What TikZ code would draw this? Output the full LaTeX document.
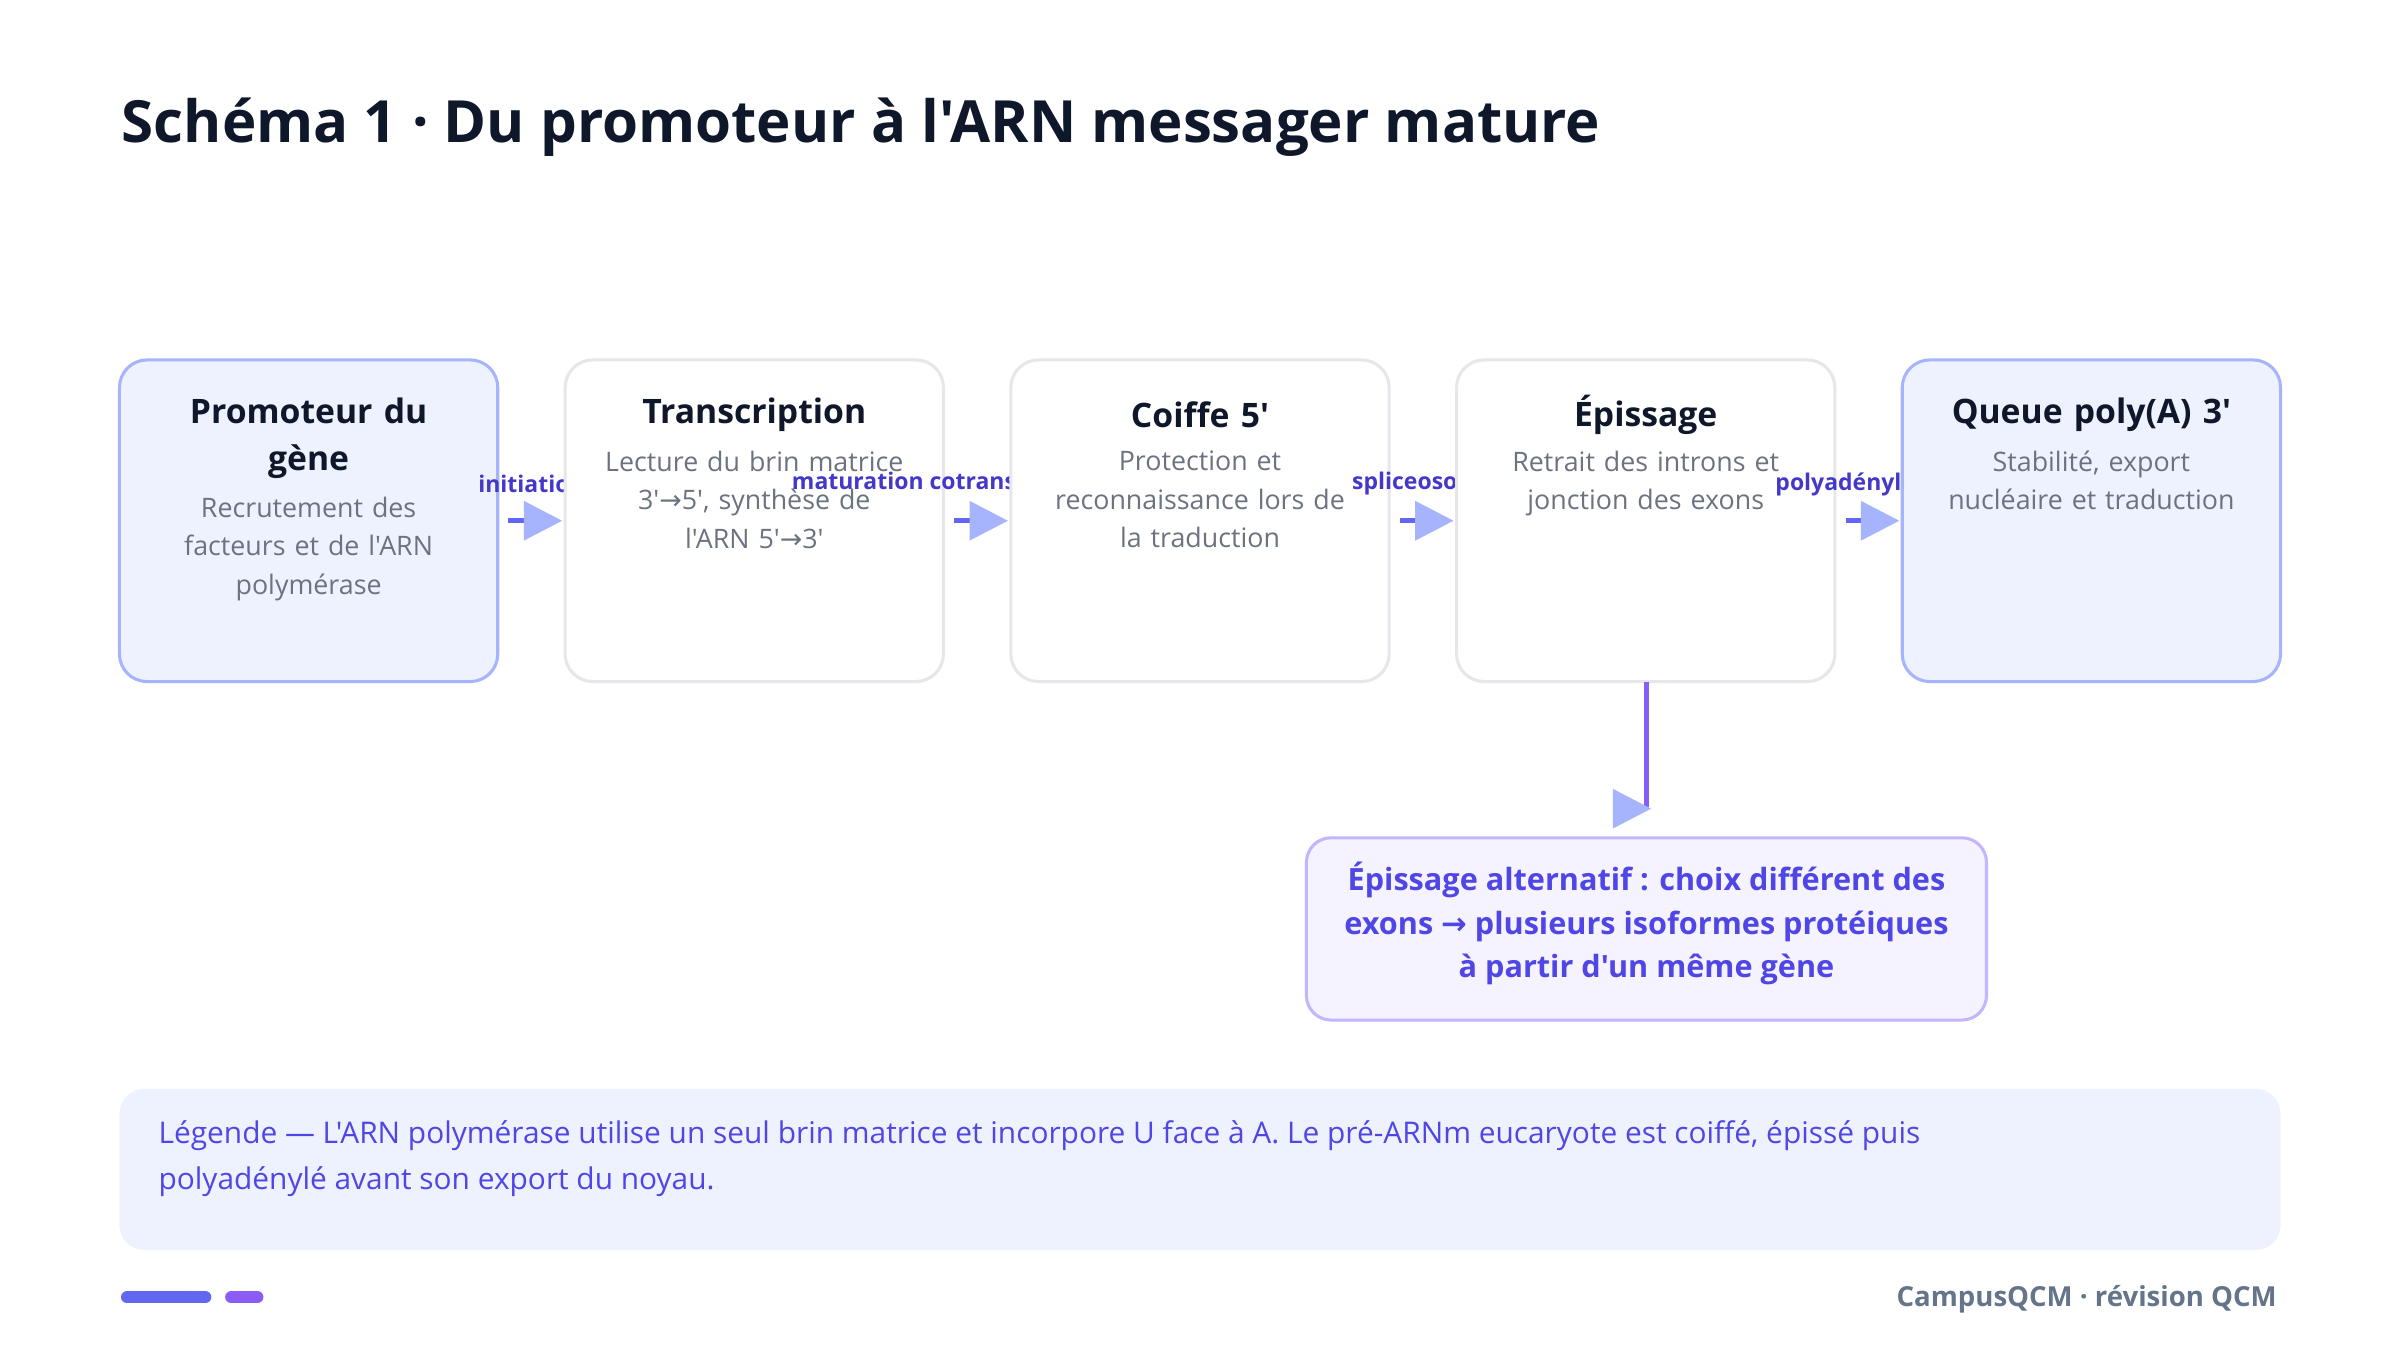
\documentclass[tikz,border=0pt]{standalone}
\usepackage{fontspec}
\defaultfontfeatures[\rmfamily]{}
\setmainfont{Open Sans}
\newfontfamily\sym{DejaVu Sans}
\newcommand{\ra}{{\sym →}}
\begin{document}
\begin{tikzpicture}[x=1pt,y=-1pt,
 box/.style={draw=#1,line width=2pt,rounded corners=18pt},
 btitle/.style={font=\fontsize{22}{31}\selectfont\bfseries,text=ink},
 bdesc/.style={font=\fontsize{17.5}{25}\selectfont,text=gray6,align=center},
 lab/.style={font=\fontsize{15}{18}\selectfont\bfseries,text=lab},
 ]
\definecolor{ink}{HTML}{0F172A}\definecolor{gray6}{HTML}{6B7280}
\definecolor{lab}{HTML}{4338CA}\definecolor{indi}{HTML}{6366F1}
\definecolor{headc}{HTML}{A5B4FC}\definecolor{fillb}{HTML}{EEF2FF}
\definecolor{bord}{HTML}{E5E7EB}\definecolor{vio}{HTML}{8B5CF6}
\definecolor{callf}{HTML}{F5F3FF}\definecolor{callb}{HTML}{C4B5FD}
\definecolor{calt}{HTML}{4F46E5}\definecolor{foot}{HTML}{64748B}
\useasboundingbox[fill=white] (0,0) rectangle (1567,887);
\node[anchor=west,font=\fontsize{38}{44}\selectfont\bfseries,text=ink] (title) at (76,83) {Schéma 1 · Du promoteur à l'ARN messager mature};
\newcommand{\conn}[3]{%
 \draw[indi,line width=3pt] (#1,340) -- (#1+12,340);
 \fill[headc] (#1+10,327) -- (#1+35,340) -- (#1+10,353) -- cycle;
 \node[lab] (#3) at (#1+15,316) {#2};}
\newcommand{\bx}[8]{%
 \draw[box=#3,fill=#4] (#1,235) rectangle (#1+247,445);
 \node[btitle,align=center,text width=230pt] (#2) at (#1+123.5,#8) {#5};
 \node[bdesc,anchor=north,text width=225pt] (#2d) at (#1+123.5,#7) {#6};}
\bx{78}{b1}{headc}{fillb}{Promoteur du\\gène}{Recrutement des\\facteurs et de l'ARN\\polymérase}{321}{286}
\conn{332}{initiation}{l1}
\bx{369}{b2}{bord}{white}{Transcription}{Lecture du brin matrice\\3′\ra5′, synthèse de\\l'ARN 5′\ra3′}{291}{271}
\conn{623}{maturation cotranscriptionnelle}{l2}
\bx{660}{b3}{bord}{white}{Coiffe 5′}{Protection et\\reconnaissance lors de\\la traduction}{291}{271}
\conn{914}{spliceosome}{l3}
\bx{951}{b4}{bord}{white}{Épissage}{Retrait des introns et\\jonction des exons}{291}{271}
\conn{1205}{polyadénylation}{l4}
\bx{1242}{b5}{headc}{fillb}{Queue poly(A) 3′}{Stabilité, export\\nucléaire et traduction}{291}{271}
\coordinate (d1) at (1075,527);
\draw[vio!85!indi,line width=3pt] (1075,445) -- (d1);
\fill[headc] (1053,515) -- (1078,528) -- (1053,541) -- cycle;
\draw[draw=callb,fill=callf,line width=2pt,rounded corners=16pt] (853,547) rectangle (1297,666);
\node[font=\fontsize{20}{28.5}\selectfont\bfseries,text=calt,align=center] (call) at (1075,603) {Épissage alternatif : choix différent des\\exons \ra\ plusieurs isoformes protéiques\\à partir d'un même gène};
\fill[fillb,rounded corners=16pt] (78,711) rectangle (1489,816);
\node[anchor=north west,font=\fontsize{19.5}{30}\selectfont,text=calt,align=left] (leg) at (100,728) {Légende — L'ARN polymérase utilise un seul brin matrice et incorpore U face à A. Le pré-ARNm eucaryote est coiffé, épissé puis\\polyadénylé avant son export du noyau.};
\draw[indi,line width=8pt,line cap=round] (83,847) -- (134,847);
\draw[vio,line width=8pt,line cap=round] (151,847) -- (168,847);
\node[anchor=east,font=\fontsize{18}{22}\selectfont\bfseries,text=foot] (foot) at (1490,848) {CampusQCM · révision QCM};
\end{tikzpicture}
\end{document}
